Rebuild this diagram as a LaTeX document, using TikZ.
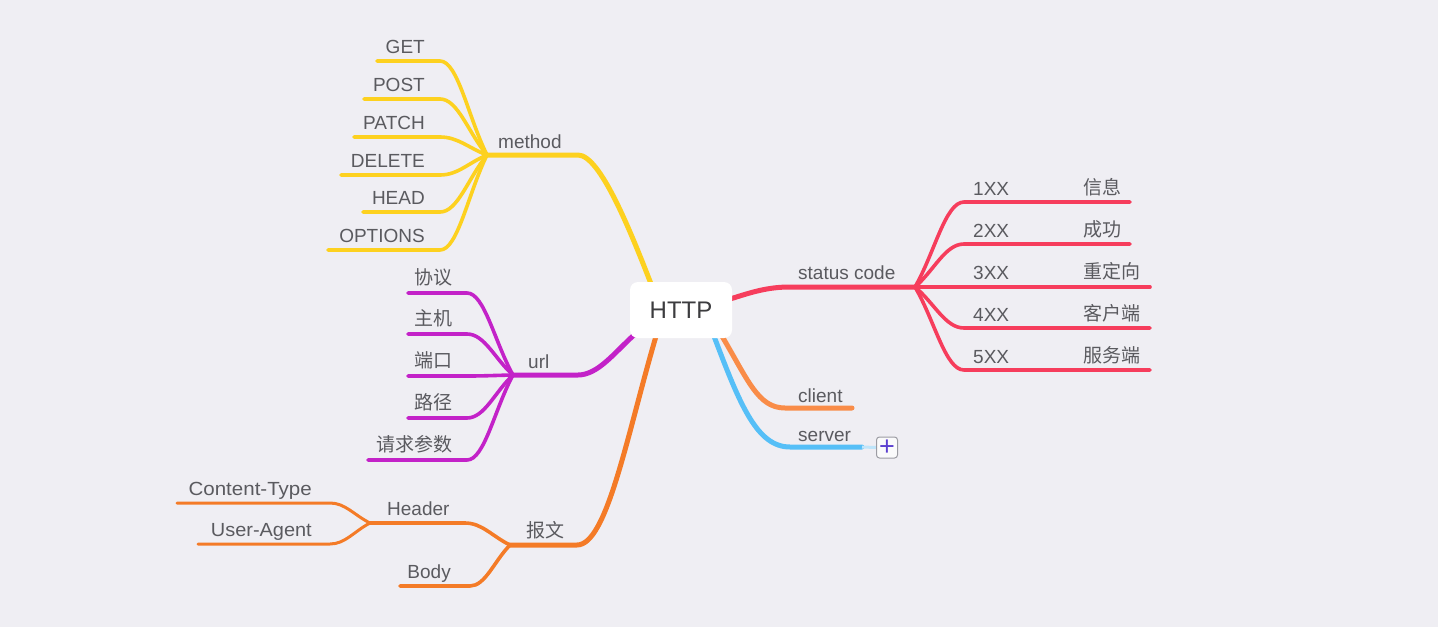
\documentclass[tikz,border=0pt]{standalone}
\usepackage{fontspec}
\setmainfont{Liberation Sans}
\newfontfamily\cjk{Noto Sans CJK SC}
\usetikzlibrary{calc,backgrounds}
\definecolor{bgc}{HTML}{EFEEF3}
\definecolor{txtc}{HTML}{5A5A5F}
\definecolor{hubtxt}{HTML}{3C3C3F}
\definecolor{yel}{HTML}{FDD11F}
\definecolor{redc}{HTML}{F63D5C}
\definecolor{mag}{HTML}{C322C8}
\definecolor{orb}{HTML}{F47B27}
\definecolor{orc}{HTML}{F98C48}
\definecolor{blu}{HTML}{56BFF7}
\definecolor{blufade}{HTML}{BFE5FA}
\definecolor{plusc}{HTML}{5B3FD0}
\definecolor{plusbd}{HTML}{9C9CA3}
\tikzset{
  lbl/.style={text=txtc, font=\fontsize{19}{22}\selectfont, inner sep=0pt},
  hub/.style={fill=white, rounded corners=8pt, minimum width=102pt, minimum height=56pt,
    text=hubtxt, font=\fontsize{24}{28}\selectfont, inner sep=0pt},
  trunk/.style={line width=5pt, line cap=round},
  twigl/.style={line width=3.6pt, line cap=round},
  leafl/.style={line width=3pt, line cap=round},
  plusbox/.style={draw=plusbd, fill=white!70!bgc, line width=1pt, rounded corners=3pt,
    minimum size=21pt, inner sep=0pt, text=plusc, font=\fontsize{27}{27}\selectfont},
}
% #1 style, #2 parent merge point, #3 child bend point, #4 child end
\newcommand\twig[4]{%
  \draw[#1] let \p1=(#2), \p2=(#3) in
    (#2) .. controls ({\x1+0.4*(\x2-\x1)},{\y1+0.4*(\y2-\y1)})
             and ({\x1+0.62*(\x2-\x1)},\y2) .. (#3) -- (#4);}
\begin{document}
\begin{tikzpicture}[x=1pt,y=-1pt]
\begin{scope}[on background layer]
  \fill[bgc] (0,0) rectangle (1438,627);
\end{scope}
\useasboundingbox (0,0) rectangle (1438,627);

% hub
\node[hub] (http) at (681,310) {HTTP};
\coordinate (hM) at ($(http.north)+(-30,2)$);
\coordinate (hU) at ($(http.south west)+(4,-3)$);
\coordinate (hB) at ($(http.south)+(-25,-2)$);
\coordinate (hS) at ($(http.east)+(-2,-11)$);
\coordinate (hC) at ($(http.south)+(41,-2)$);
\coordinate (hV) at ($(http.south)+(33,-2)$);

% ---------- merge / bend points ----------
\coordinate (mB) at (578,155); \coordinate (mM) at (487,155);
\coordinate (uB) at (578,375); \coordinate (uM) at (513,375);
\coordinate (bB) at (577,545); \coordinate (bM) at (510,545);
\coordinate (sB) at (790,287); \coordinate (sM) at (915,287);
\coordinate (cB) at (785,408); \coordinate (cE) at (852,408);
\coordinate (vB) at (790,447); \coordinate (vE) at (862,447);

% method children
\coordinate (gS) at (440,61);  \coordinate (gE) at (377,61);
\coordinate (pS) at (440,99);  \coordinate (pE) at (364,99);
\coordinate (aS) at (440,137); \coordinate (aE) at (354,137);
\coordinate (dS) at (440,175); \coordinate (dE) at (341,175);
\coordinate (hdS) at (440,212); \coordinate (hdE) at (363,212);
\coordinate (oS) at (440,250); \coordinate (oE) at (328,250);
% url children
\coordinate (u1S) at (467,293); \coordinate (u1E) at (408,293);
\coordinate (u2S) at (467,334); \coordinate (u2E) at (408,334);
\coordinate (u3S) at (467,376); \coordinate (u3E) at (408,376);
\coordinate (u4S) at (467,418); \coordinate (u4E) at (408,418);
\coordinate (u5S) at (467,460); \coordinate (u5E) at (368,460);
% status children
\coordinate (s1S) at (964,202); \coordinate (s1E) at (1130,202);
\coordinate (s2S) at (964,244); \coordinate (s2E) at (1130,244);
\coordinate (s3S) at (964,287); \coordinate (s3E) at (1150,287);
\coordinate (s4S) at (964,328); \coordinate (s4E) at (1150,328);
\coordinate (s5S) at (964,370); \coordinate (s5E) at (1150,370);
% message children
\coordinate (hrS) at (465,523); \coordinate (hrM) at (370,523);
\coordinate (byS) at (470,586); \coordinate (byE) at (400,586);
\coordinate (ctS) at (330,503); \coordinate (ctE) at (177,503);
\coordinate (uaS) at (330,544); \coordinate (uaE) at (198,544);

% plus box
\node[plusbox] (plus) at (887,447.5) {+};

\begin{scope}[on background layer]
  % trunks
  \draw[trunk,yel] (hM) .. controls (630,230) and (600,155) .. (mB) -- (mM);
  \draw[trunk,mag] (hU) .. controls (615,352) and (598,375) .. (uB) -- (uM);
  \draw[trunk,orb] (hB) .. controls (627,435) and (607,545) .. (bB) -- (bM);
  \draw[trunk,redc] (hS) .. controls (752,292) and (768,287) .. (sB) -- (sM);
  \draw[trunk,orc] (hC) .. controls (748,380) and (758,408) .. (cB) -- (cE);
  \draw[trunk,blu] (hV) .. controls (740,405) and (757,447) .. (vB) -- (vE);
  \draw[line width=3pt,blufade] (vE) -- (plus.west);
  % method
  \twig{twigl,yel}{mM}{gS}{gE}
  \twig{twigl,yel}{mM}{pS}{pE}
  \twig{twigl,yel}{mM}{aS}{aE}
  \twig{twigl,yel}{mM}{dS}{dE}
  \twig{twigl,yel}{mM}{hdS}{hdE}
  \twig{twigl,yel}{mM}{oS}{oE}
  % url
  \twig{twigl,mag}{uM}{u1S}{u1E}
  \twig{twigl,mag}{uM}{u2S}{u2E}
  \twig{twigl,mag}{uM}{u3S}{u3E}
  \twig{twigl,mag}{uM}{u4S}{u4E}
  \twig{twigl,mag}{uM}{u5S}{u5E}
  % status
  \twig{twigl,redc}{sM}{s1S}{s1E}
  \twig{twigl,redc}{sM}{s2S}{s2E}
  \twig{twigl,redc}{sM}{s3S}{s3E}
  \twig{twigl,redc}{sM}{s4S}{s4E}
  \twig{twigl,redc}{sM}{s5S}{s5E}
  % message
  \twig{twigl,orb}{bM}{hrS}{hrM}
  \twig{twigl,orb}{bM}{byS}{byE}
  \twig{leafl,orb}{hrM}{ctS}{ctE}
  \twig{leafl,orb}{hrM}{uaS}{uaE}
\end{scope}

% ---------- labels ----------
\node[lbl,anchor=base west] (lmethod) at (498,148) {method};
\node[lbl,anchor=base west] (lurl) at (528,368) {url};
\node[lbl,anchor=base west] (lmsg) at (526,537) {\cjk 报文};
\node[lbl,anchor=base west] (lstatus) at (798,279) {status code};
\node[lbl,anchor=base west] (lclient) at (798,402) {client};
\node[lbl,anchor=base west] (lserver) at (798,441) {server};

\node[lbl,anchor=base east] (lget) at (425,53) {GET};
\node[lbl,anchor=base east] (lpost) at (425,91) {POST};
\node[lbl,anchor=base east] (lpatch) at (425,129) {PATCH};
\node[lbl,anchor=base east] (ldelete) at (425,167) {DELETE};
\node[lbl,anchor=base east] (lhead) at (425,204) {HEAD};
\node[lbl,anchor=base east] (loptions) at (425,242) {OPTIONS};

\node[lbl,anchor=base east] (lu1) at (453,284) {\cjk 协议};
\node[lbl,anchor=base east] (lu2) at (453,325) {\cjk 主机};
\node[lbl,anchor=base east] (lu3) at (453,367) {\cjk 端口};
\node[lbl,anchor=base east] (lu4) at (453,409) {\cjk 路径};
\node[lbl,anchor=base east] (lu5) at (453,451) {\cjk 请求参数};

\node[lbl,anchor=base west] (l1xx) at (973,195) {1XX};
\node[lbl,anchor=base west] (l2xx) at (973,237) {2XX};
\node[lbl,anchor=base west] (l3xx) at (973,279) {3XX};
\node[lbl,anchor=base west] (l4xx) at (973,321) {4XX};
\node[lbl,anchor=base west] (l5xx) at (973,363) {5XX};
\node[lbl,anchor=base west] (lz1) at (1083,194) {\cjk 信息};
\node[lbl,anchor=base west] (lz2) at (1083,236) {\cjk 成功};
\node[lbl,anchor=base west] (lz3) at (1083,278) {\cjk 重定向};
\node[lbl,anchor=base west] (lz4) at (1083,320) {\cjk 客户端};
\node[lbl,anchor=base west] (lz5) at (1083,362) {\cjk 服务端};

\node[lbl,anchor=base west] (lheader) at (387,515) {Header};
\node[lbl,anchor=base east] (lbody) at (451,578) {Body};
\node[lbl,anchor=base east,xscale=1.08] (lct) at (312,495) {Content-Type};
\node[lbl,anchor=base east,xscale=1.05] (lua) at (312,536) {User-Agent};
\end{tikzpicture}
\end{document}
